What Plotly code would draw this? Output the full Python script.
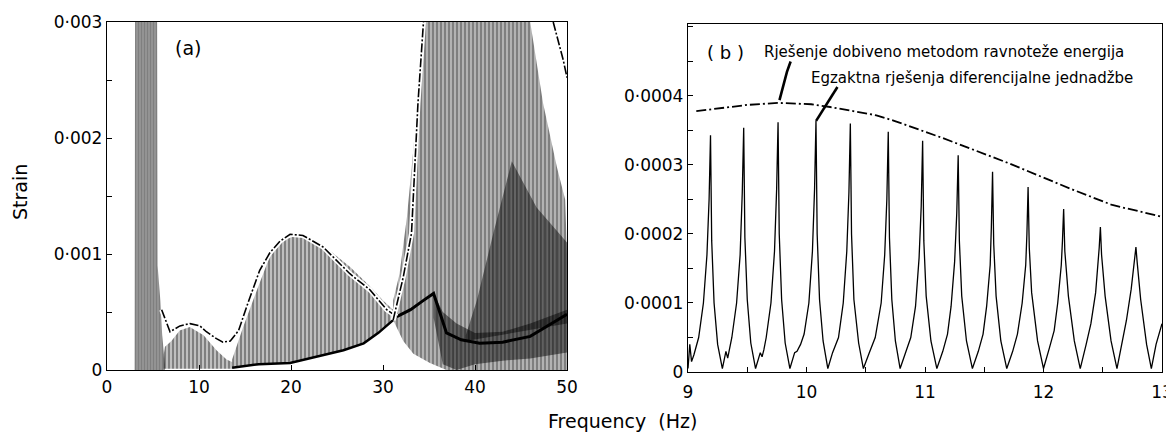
import plotly.graph_objects as go

# ---------------- Panel (a): 0-50 Hz ----------------
# hatched (dense vertical-line) response bands, read as upper / lower envelopes
A_B1_F = [3.0, 3.05, 5.45, 5.5, 5.8, 6.0, 6.3]
A_B1_TOP = [0.0, 0.003, 0.003, 0.0009, 0.0006, 0.0003, 0.00005]
A_B1_BOTF = [3.0, 6.3]
A_B1_BOT = [0.0, 0.0]

A_B2_F = [6.1, 6.3, 7.0, 7.9, 9.0, 10.5, 11.9, 13.0, 13.6]
A_B2_TOP = [0.0001, 0.0002, 0.00025, 0.00034, 0.00037, 0.0003, 0.00017, 0.00009, 0.00007]
A_B2_BOTF = [6.1, 13.6]
A_B2_BOT = [0.00001, 0.00001]

A_B3_F = [13.6, 14.8, 16.3, 17.7, 19.2, 20.6, 22.1, 24.2, 26.4, 28.6, 30.0, 31.1]
A_B3_TOP = [0.00009, 0.00037, 0.00069, 0.00098, 0.00112, 0.00116, 0.00114, 0.00103,
            0.00089, 0.00072, 0.0006, 0.00052]
A_LOW_F = [13.6, 16.5, 19.9, 22.0, 24.2, 25.7, 27.9, 29.5, 31.1]
A_LOW_S = [0.00002, 0.00005, 0.00006, 0.0001, 0.00014, 0.00017, 0.00023, 0.00032, 0.00043]

A_B4_F = [31.1, 31.8, 32.6, 33.3, 34.0, 34.6, 46.0, 47.4, 48.9, 49.8, 50.0]
A_B4_TOP = [0.0006, 0.00083, 0.00132, 0.0019, 0.0026, 0.003, 0.003, 0.0023, 0.00175, 0.00147, 0.001]
A_B4_BOTF = [31.1, 32.2, 33.3, 35.1, 36.9, 50.0]
A_B4_BOT = [0.00043, 0.00025, 0.00014, 0.00006, 0.0, 0.0]

A_W_F = [39.0, 40.2, 42.0, 44.0, 46.7, 50.0]
A_W_TOP = [0.0003, 0.0006, 0.00118, 0.0018, 0.0014, 0.0011]
A_W_BOTF = [39.0, 50.0]
A_W_BOT = [0.00025, 0.0004]

A_DK_F = [35.5, 36.5, 38.0, 40.0, 43.0, 46.0, 50.0]
A_DK_TOP = [0.00066, 0.0005, 0.0004, 0.00032, 0.00033, 0.0004, 0.00052]
A_DK_BOT = [0.00045, 0.00005, 0.0, 0.00005, 0.00008, 0.0001, 0.00015]

# energy-balance curve in (a)
A_E1_F = [5.94, 6.85, 7.93, 9.02, 10.1, 10.8, 11.9, 12.6, 13.4, 14.3, 15.2, 16.6, 17.7, 18.8,
          19.9, 21.3, 23.5, 25.7, 26.4, 28.6, 30.4, 31.5]
A_E1_S = [0.00052, 0.00033, 0.00038, 0.0004, 0.00038, 0.00033, 0.00027, 0.00024, 0.00025,
          0.00034, 0.00055, 0.00086, 0.00101, 0.00111, 0.00117, 0.00116, 0.00106, 0.00089,
          0.00083, 0.00069, 0.00052, 0.00046]
A_E2_F = [31.1, 32.2, 33.1, 33.8, 34.4]
A_E2_S = [0.00043, 0.0008, 0.00118, 0.0023, 0.003]
A_E3_F = [48.5, 49.6, 50.0]
A_E3_S = [0.003, 0.00267, 0.00252]
# dark valley line in (a)
A_D_F = [31.5, 33.0, 34.4, 35.5, 36.9, 38.5, 40.5, 43.0, 46.0, 49.6, 50.0]
A_D_S = [0.00046, 0.00052, 0.0006, 0.00066, 0.00032, 0.00026, 0.00023, 0.00024, 0.00029,
         0.00046, 0.00048]

A_XTICKS = [0, 10, 20, 30, 40, 50]
A_YTICKS = [0, 0.001, 0.002, 0.003]
A_YTEXT = ["0", "0·001", "0·002", "0·003"]

# ---------------- Panel (b): 9-13 Hz (strain in units of 1e-4) ----------------
B_F = [9.00, 9.015, 9.03, 9.05, 9.09, 9.13, 9.16, 9.178, 9.19, 9.20, 9.22, 9.25, 9.29,
       9.32, 9.335, 9.35, 9.37, 9.41, 9.44, 9.458, 9.47, 9.48, 9.50, 9.53, 9.57,
       9.61, 9.625, 9.64, 9.66, 9.70, 9.73, 9.748, 9.76, 9.77, 9.79, 9.82, 9.86,
       9.90, 9.92, 9.95, 9.98, 10.02, 10.05, 10.068, 10.08, 10.09, 10.11, 10.14, 10.18,
       10.22, 10.27, 10.31, 10.34, 10.358, 10.37, 10.38, 10.40, 10.44, 10.48,
       10.53, 10.58, 10.63, 10.66, 10.678, 10.69, 10.70, 10.72, 10.75, 10.79,
       10.84, 10.88, 10.92, 10.95, 10.968, 10.98, 10.99, 11.01, 11.05, 11.10,
       11.15, 11.19, 11.22, 11.25, 11.268, 11.28, 11.29, 11.31, 11.35, 11.40,
       11.45, 11.49, 11.52, 11.55, 11.56, 11.57, 11.58, 11.60, 11.64, 11.69,
       11.74, 11.78, 11.82, 11.85, 11.86, 11.87, 11.88, 11.90, 11.95, 12.00,
       12.05, 12.09, 12.12, 12.15, 12.16, 12.17, 12.18, 12.21, 12.26, 12.31,
       12.36, 12.40, 12.44, 12.46, 12.47, 12.48, 12.49, 12.52, 12.57, 12.62,
       12.66, 12.70, 12.74, 12.76, 12.78, 12.79, 12.82, 12.87, 12.91, 12.95, 13.00]
B_S_E4 = [0.05, 0.40, 0.15, 0.25, 0.50, 1.00, 1.70, 2.50, 3.43, 1.90, 1.00, 0.40, 0.05,
          0.30, 0.20, 0.32, 0.50, 1.00, 1.70, 2.60, 3.54, 1.95, 1.05, 0.42, 0.05,
          0.28, 0.22, 0.32, 0.50, 1.00, 1.75, 2.65, 3.62, 2.00, 1.05, 0.42, 0.05,
          0.28, 0.30, 0.40, 0.55, 1.00, 1.75, 2.65, 3.64, 2.00, 1.05, 0.45, 0.05,
          0.28, 0.50, 1.00, 1.75, 2.60, 3.60, 2.00, 1.05, 0.42, 0.05,
          0.28, 0.50, 1.00, 1.70, 2.50, 3.48, 1.95, 1.05, 0.45, 0.05,
          0.30, 0.50, 0.95, 1.65, 2.40, 3.35, 1.90, 1.10, 0.45, 0.05,
          0.30, 0.55, 0.95, 1.60, 2.30, 3.14, 1.90, 1.10, 0.45, 0.05,
          0.30, 0.55, 0.95, 1.55, 2.10, 2.90, 1.85, 1.10, 0.45, 0.05,
          0.30, 0.55, 1.00, 1.55, 2.00, 2.68, 1.80, 1.15, 0.45, 0.05,
          0.35, 0.60, 1.00, 1.55, 1.90, 2.36, 1.75, 1.10, 0.45, 0.05,
          0.40, 0.70, 1.15, 1.55, 1.80, 2.10, 1.70, 1.10, 0.45, 0.05,
          0.40, 0.75, 1.20, 1.50, 1.81, 1.60, 1.05, 0.40, 0.05, 0.40, 0.70]
B_E_F = [9.07, 9.3, 9.5, 9.76, 10.04, 10.2, 10.59, 10.74, 11.15, 11.7, 12.25, 12.58, 13.0]
B_E_S_E4 = [3.78, 3.83, 3.87, 3.90, 3.88, 3.84, 3.72, 3.64, 3.39, 3.03, 2.64, 2.42, 2.25]

B_XTICKS = [9, 10, 11, 12, 13]
B_YTICKS_E4 = [0, 1, 2, 3, 4]
B_YTEXT = ["0", "0·0001", "0·0002", "0·0003", "0·0004"]

LABEL_1 = "Rješenje dobiveno metodom ravnoteže energija"
LABEL_2 = "Egzaktna rješenja diferencijalne jednadžbe"
# leader lines (data coords of panel b, strain in 1e-4)
LEAD1_F = [9.866, 9.835, 9.772]
LEAD1_S = [4.50, 4.35, 3.94]
LEAD2_F = [10.261, 10.081]
LEAD2_S = [4.13, 3.64]

E4 = 1e-4
INK = "#000000"
FONT = "DejaVu Sans"

W, H = 1174, 432
OFF = 8  # the page body margin shifts the figure by this many pixels


def px_x(p):
    return (p - OFF) / W


def px_y(p):
    return 1 - (p - OFF) / H


fig = go.Figure()


def band(xt, yt, xb, yb, size, solidity):
    px = list(xt) + list(reversed(xb))
    py = list(yt) + list(reversed(yb))
    fig.add_trace(go.Scatter(
        x=px, y=py, mode="lines", fill="toself", line=dict(width=0),
        fillcolor="rgba(0,0,0,0)",
        fillpattern=dict(shape="|", size=size, solidity=solidity, fgcolor=INK),
        xaxis="x", yaxis="y", hoverinfo="skip", showlegend=False))


band(A_B1_F, A_B1_TOP, A_B1_BOTF, A_B1_BOT, 3, 0.9)
band(A_B2_F, A_B2_TOP, A_B2_BOTF, A_B2_BOT, 4, 0.75)
band(A_B3_F, A_B3_TOP, A_LOW_F, A_LOW_S, 4, 0.75)
band(A_B4_F, A_B4_TOP, A_B4_BOTF, A_B4_BOT, 4, 0.8)
band(A_W_F, A_W_TOP, A_W_BOTF, A_W_BOT, 3, 0.92)
band(A_DK_F, A_DK_TOP, A_DK_F, A_DK_BOT, 3, 0.95)

# lower thick curve and dark valley line
fig.add_trace(go.Scatter(x=A_LOW_F, y=A_LOW_S, mode="lines", line=dict(color=INK, width=2.5),
                         xaxis="x", yaxis="y", showlegend=False))
fig.add_trace(go.Scatter(x=A_D_F, y=A_D_S, mode="lines", line=dict(color=INK, width=3),
                         xaxis="x", yaxis="y", showlegend=False))

# energy-balance curve: white halo then dash-dot ink
for fx, sy in [(A_E1_F, A_E1_S), (A_E2_F, A_E2_S), (A_E3_F, A_E3_S)]:
    fig.add_trace(go.Scatter(x=fx, y=sy, mode="lines", line=dict(color="white", width=5),
                             xaxis="x", yaxis="y", showlegend=False, hoverinfo="skip"))
    fig.add_trace(go.Scatter(x=fx, y=sy, mode="lines",
                             line=dict(color=INK, width=1.6, dash="9px,2px,2px,2px"),
                             xaxis="x", yaxis="y", showlegend=False))

# panel (b)
fig.add_trace(go.Scatter(x=B_F, y=[v * E4 for v in B_S_E4], mode="lines",
                         line=dict(color=INK, width=1.3), xaxis="x2", yaxis="y2",
                         showlegend=False))
fig.add_trace(go.Scatter(x=B_E_F, y=[v * E4 for v in B_E_S_E4], mode="lines",
                         line=dict(color=INK, width=1.8, dash="10px,3px,2px,3px"),
                         xaxis="x2", yaxis="y2", showlegend=False))
for lf, ls in [(LEAD1_F, LEAD1_S), (LEAD2_F, LEAD2_S)]:
    fig.add_trace(go.Scatter(x=lf, y=[v * E4 for v in ls], mode="lines",
                             line=dict(color=INK, width=2.6), xaxis="x2", yaxis="y2",
                             showlegend=False))

tickfont = dict(family=FONT, size=17, color=INK)
axis_common = dict(showline=True, mirror=True, linecolor=INK, linewidth=1.4,
                   ticks="inside", tickcolor=INK, ticklen=5, showgrid=False,
                   zeroline=False, tickfont=tickfont, fixedrange=True, automargin=False)

fig.update_layout(
    width=W, height=H, autosize=False,
    margin=dict(l=0, r=0, t=0, b=0),
    paper_bgcolor="white", plot_bgcolor="white",
    xaxis=dict(domain=[px_x(107), px_x(567)], range=[0, 50], tickvals=A_XTICKS,
               ticklabelstandoff=1, anchor="y", **axis_common),
    yaxis=dict(domain=[px_y(370), px_y(22)], range=[0, 0.003], tickvals=A_YTICKS,
               ticktext=A_YTEXT, ticklabelstandoff=0, anchor="x",
               minor=dict(ticks="inside", dtick=0.0005, ticklen=5, tickcolor=INK),
               **axis_common),
    xaxis2=dict(domain=[px_x(688), px_x(1162)], range=[9, 13], tickvals=B_XTICKS,
                ticklabelstandoff=4, anchor="y2",
                minor=dict(ticks="inside", dtick=0.5, ticklen=5, tickcolor=INK),
                **axis_common),
    yaxis2=dict(domain=[px_y(372), px_y(24)], range=[0, 0.0005043],
                tickvals=[v * E4 for v in B_YTICKS_E4], ticktext=B_YTEXT,
                ticklabelstandoff=0, anchor="x2",
                minor=dict(ticks="inside", dtick=0.00005, ticklen=5, tickcolor=INK),
                **axis_common),
    annotations=[
        dict(text="(a)", x=px_x(188), y=px_y(48), xref="paper", yref="paper",
             showarrow=False, xanchor="center", yanchor="middle",
             font=dict(family=FONT, size=19, color=INK)),
        dict(text="( b )", x=px_x(725), y=px_y(52), xref="paper", yref="paper",
             showarrow=False, xanchor="center", yanchor="middle",
             font=dict(family=FONT, size=18, color=INK)),
        dict(text=LABEL_1, x=px_x(762), y=px_y(52), xref="paper", yref="paper",
             showarrow=False, xanchor="left", yanchor="middle",
             font=dict(family=FONT, size=15, color=INK)),
        dict(text=LABEL_2, x=px_x(809), y=px_y(78), xref="paper", yref="paper",
             showarrow=False, xanchor="left", yanchor="middle",
             font=dict(family=FONT, size=15, color=INK)),
        dict(text="Frequency  (Hz)", x=px_x(622), y=px_y(421), xref="paper", yref="paper",
             showarrow=False, xanchor="center", yanchor="middle",
             font=dict(family=FONT, size=19, color=INK)),
        dict(text="Strain", x=px_x(20), y=px_y(192), xref="paper", yref="paper",
             showarrow=False, xanchor="center", yanchor="middle", textangle=-90,
             font=dict(family=FONT, size=19, color=INK)),
    ],
)

fig.write_html("out.html")
